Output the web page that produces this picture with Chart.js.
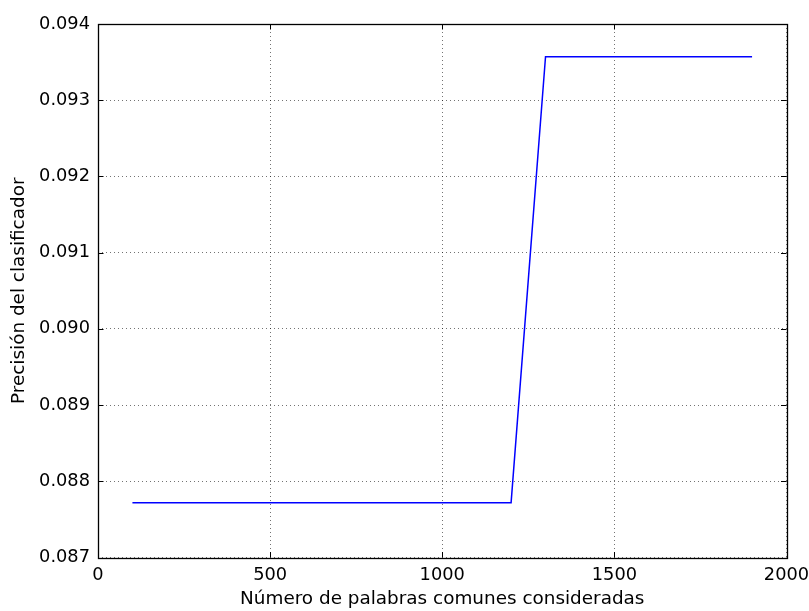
<!DOCTYPE html>
<html>
<head>
<meta charset="utf-8">
<script src="https://cdn.jsdelivr.net/npm/chart.js@4.4.1/dist/chart.umd.min.js"></script>
<style>
  html, body { margin: 0; padding: 0; background: #ffffff; }
  canvas { display: block; }
</style>
</head>
<body>
<canvas id="c" width="809" height="611"></canvas>
<script>
// Number of common words considered (x) and classifier precision (y)
const numWords = [100, 200, 300, 400, 500, 600, 700, 800, 900, 1000, 1100, 1200, 1300, 1400, 1500, 1600, 1700, 1800, 1900];
const precision = [0.08772, 0.08772, 0.08772, 0.08772, 0.08772, 0.08772, 0.08772, 0.08772, 0.08772, 0.08772, 0.08772, 0.08772,
                   0.09357, 0.09357, 0.09357, 0.09357, 0.09357, 0.09357, 0.09357];
const xTicks = [0, 500, 1000, 1500, 2000];
const yTicks = [0.087, 0.088, 0.089, 0.090, 0.091, 0.092, 0.093, 0.094];
const xTitle = 'Número de palabras comunes consideradas';
const yTitle = 'Precisión del clasificador';

const FONT = 'DejaVu Sans';
const TICK_FONT_SIZE = 17.8;
const TITLE_FONT_SIZE = 18.4;
const TICK_LEN = 5.5;

// Draws the box around the plot and inward-pointing tick marks on all four sides
const frameAndTicks = {
  id: 'frameAndTicks',
  afterDatasetsDraw(chart) {
    const { ctx, chartArea: a, scales } = chart;
    ctx.save();
    ctx.strokeStyle = '#000';
    ctx.lineWidth = 1;
    ctx.beginPath();
    scales.x.ticks.forEach(t => {
      const px = Math.round(scales.x.getPixelForValue(t.value)) + 0.5;
      ctx.moveTo(px, a.bottom); ctx.lineTo(px, a.bottom - TICK_LEN);
      ctx.moveTo(px, a.top); ctx.lineTo(px, a.top + TICK_LEN);
    });
    scales.y.ticks.forEach(t => {
      const py = Math.round(scales.y.getPixelForValue(t.value)) + 0.5;
      ctx.moveTo(a.left, py); ctx.lineTo(a.left + TICK_LEN, py);
      ctx.moveTo(a.right, py); ctx.lineTo(a.right - TICK_LEN, py);
    });
    ctx.stroke();
    ctx.lineWidth = 1.3;
    ctx.strokeRect(Math.round(a.left) + 0.5, Math.round(a.top) + 0.5,
                   Math.round(a.right - a.left), Math.round(a.bottom - a.top));
    ctx.restore();
  }
};

// dotted grid lines (border.dash sets the grid line dash in Chart.js v4)
const gridStyle = { color: 'rgba(0,0,0,0.55)', lineWidth: 1, drawTicks: false };
const borderStyle = { display: false, dash: [1, 3] };

new Chart(document.getElementById('c'), {
  type: 'line',
  data: {
    datasets: [{
      data: numWords.map((x, i) => ({ x, y: precision[i] })),
      borderColor: '#0000ff',
      borderWidth: 1.5,
      pointRadius: 0,
      tension: 0,
      fill: false,
    }]
  },
  options: {
    responsive: false,
    animation: false,
    devicePixelRatio: 1,
    layout: { padding: { left: 0, top: 24, right: 22.5, bottom: 0 } },
    plugins: { legend: { display: false }, tooltip: { enabled: false } },
    scales: {
      x: {
        type: 'linear',
        min: 0, max: 2000,
        afterBuildTicks: s => { s.ticks = xTicks.map(v => ({ value: v })); },
        afterFit: s => { s.height = 53.5; s.paddingLeft = 0; s.paddingRight = 0; },
        grid: { ...gridStyle },
        border: { ...borderStyle },
        ticks: {
          color: '#000', padding: 7,
          font: { family: FONT, size: TICK_FONT_SIZE },
          maxRotation: 0,
          callback: v => String(v),
        },
        title: {
          display: true, text: xTitle, color: '#000',
          font: { family: FONT, size: TITLE_FONT_SIZE },
          padding: { top: 0, bottom: 1 },
        },
      },
      y: {
        type: 'linear',
        min: 0.087, max: 0.094,
        afterBuildTicks: s => { s.ticks = yTicks.map(v => ({ value: v })); },
        afterFit: s => { s.width = 98; s.paddingTop = 0; s.paddingBottom = 0; },
        grid: { ...gridStyle },
        border: { ...borderStyle },
        ticks: {
          color: '#000', padding: 8,
          font: { family: FONT, size: TICK_FONT_SIZE },
          callback: v => Number(v).toFixed(3),
        },
        title: {
          display: true, text: yTitle, color: '#000',
          font: { family: FONT, size: TITLE_FONT_SIZE },
          padding: { top: 8.5, bottom: 0 },
        },
      },
    },
  },
  plugins: [frameAndTicks],
});
</script>
</body>
</html>
